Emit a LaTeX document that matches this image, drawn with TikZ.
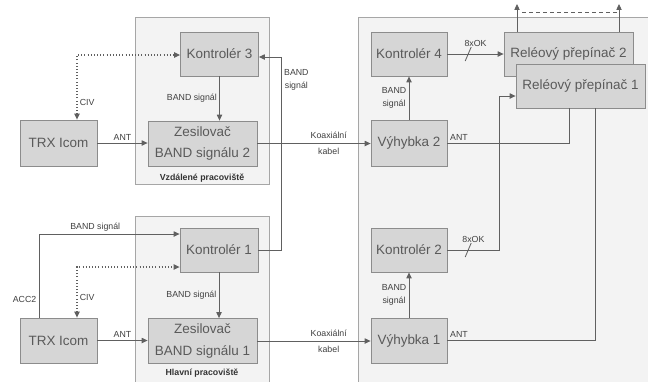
\documentclass[tikz,border=0pt]{standalone}
\usepackage{fontspec}
\setmainfont{Liberation Sans}
\usetikzlibrary{arrows.meta,calc,positioning}
\definecolor{boxfill}{HTML}{D6D6D6}
\definecolor{boxline}{HTML}{8C8C8C}
\definecolor{panelfill}{HTML}{F3F3F3}
\definecolor{panelline}{HTML}{A6A6A6}
\definecolor{txtclr}{HTML}{5A5A5A}
\definecolor{wireclr}{HTML}{606060}

\begin{document}
\begin{tikzpicture}[x=0.03cm, y=-0.03cm,
    box/.style={draw=boxline, fill=boxfill, line width=0.7pt, text=txtclr,
                align=center, inner sep=0pt, font=\fontsize{11.5}{18}\selectfont,
                minimum height=1.32cm},
    ctrl/.style={box, minimum width=2.34cm},
    amp/.style={box, minimum width=3.27cm, minimum height=1.35cm},
    relay/.style={box, minimum width=3.87cm},
    panel/.style={draw=panelline, fill=panelfill, line width=0.7pt},
    plbl/.style={font=\fontsize{7.5}{9}\selectfont\bfseries, text=black!80},
    lbl/.style={font=\fontsize{7.5}{11}\selectfont, text=black!75, inner sep=2pt},
    coax/.style={lbl, align=center, font=\fontsize{7.5}{14}\selectfont},
    wire/.style={draw=wireclr, line width=0.7pt},
    sig/.style={wire, -{Triangle[length=5pt,width=4.5pt]}},
    civ/.style={wire, dotted, line width=0.9pt, {Triangle[length=5pt,width=4.5pt]}-{Triangle[length=5pt,width=4.5pt]}},
  ]
  \clip (0,0) rectangle (648,381);
  \fill[white] (0,0) rectangle (648,381);

  % pracoviste
  \draw[panel] (135,17) rectangle (269,184);
  \draw[panel] (135,216) rectangle (269,395);
  \draw[panel] (358,17) rectangle (660,395);
  \node[plbl] (vzd) at (202,178) {Vzdálené pracoviště};
  \node[plbl] (hl) at (202,373) {Hlavní pracoviště};

  % bloky
  \node[ctrl] (k3) at (219.5,54) {Kontrolér 3};
  \node[amp]  (zes2) at (202.5,143.5) {Zesilovač\\BAND signálu 2};
  \node[ctrl, minimum width=2.31cm, minimum height=1.38cm] (trx2) at (58.5,143) {TRX Icom};
  \node[ctrl] (k1) at (219,250) {Kontrolér 1};
  \node[amp]  (zes1) at (202.5,341) {Zesilovač\\BAND signálu 1};
  \node[ctrl, minimum width=2.31cm, minimum height=1.35cm] (trx1) at (58.5,340.5) {TRX Icom};

  \node[ctrl, minimum width=2.28cm] (k4) at (409,54) {Kontrolér 4};
  \node[ctrl, minimum width=2.28cm, minimum height=1.38cm] (vyh2) at (409,143) {Výhybka 2};
  \node[ctrl, minimum width=2.28cm] (k2) at (409,250) {Kontrolér 2};
  \node[ctrl, minimum width=2.28cm, minimum height=1.35cm] (vyh1) at (409,340.5) {Výhybka 1};
  \node[relay] (rel2) at (568.5,54) {Reléový přepínač 2};
  \node[relay] (rel1) at (580.5,86) {Reléový přepínač 1};

  % antenni vyvody
  \coordinate (ant1) at (517,4);
  \coordinate (ant2) at (619,4);
  \coordinate (dash1) at (522,12);
  \coordinate (dash2) at (617,12);
  \draw[sig] (rel2.north -| ant1) -- (ant1);
  \draw[sig] (rel2.north -| ant2) -- (ant2);
  \draw[wire, dashed] (dash1) -- (dash2);

  % vzdalene pracoviste
  \draw[civ] ($(trx2.north)+(18.5,0)$) |- node[lbl, right, pos=0.13] {CIV} ($(k3.west)+(0,1)$);
  \draw[sig] (trx2.east) -- node[lbl, above] {ANT} (zes2.west |- trx2.east);
  \draw[sig] (k3.south) -- node[lbl, left] {BAND signál} (k3.south |- zes2.north);
  \draw[sig] (zes2.east) -- node[coax, pos=0.63] {Koaxiální\\kabel} (zes2.east -| vyh2.west);

  % hlavni pracoviste
  \draw[sig] ($(trx1.north)+(-19.5,0)$) |- node[lbl, left, pos=0.11] {ACC2}
    node[lbl, above, pos=0.7] {BAND signál} ($(k1.west)+(0,-16)$);
  \draw[civ] ($(trx1.north)+(18.5,0)$) |- node[lbl, right, pos=0.2] {CIV} ($(k1.west)+(0,17)$);
  \draw[sig] (trx1.east) -- node[lbl, above] {ANT} (zes1.west |- trx1.east);
  \draw[sig] (k1.south) -- node[lbl, left] {BAND signál} (k1.south |- zes1.north);
  \draw[sig] (zes1.east) -- node[coax, pos=0.63] {Koaxiální\\kabel} (zes1.east -| vyh1.west);
  \draw[sig] (k1.east) -- ++(23,0) |- node[lbl, right, align=center, pos=0.44] {BAND\\signál} ($(k3.east)+(0,3)$);

  % prava strana
  \draw[sig] (vyh2.north) -- node[lbl, left, align=center] {BAND\\signál} (k4.south);
  \draw[sig] (vyh1.north) -- node[lbl, left, align=center] {BAND\\signál} (k2.south);
  \draw[sig] (k4.east) -- node[lbl, above=4pt] {8xOK} coordinate[pos=0.37] (bus4) (k4.east -| rel2.west);
  \draw[sig] (k2.east) -- node[lbl, above=4pt] {8xOK} coordinate[pos=0.4] (bus2) ++(52,0)
    |- ($(rel1.west)+(0,10)$);
  \draw[wire] ($(bus4)+(-3,7)$) -- ($(bus4)+(3,-7)$);
  \draw[wire] ($(bus2)+(-3,7)$) -- ($(bus2)+(3,-7)$);
  \draw[wire] (vyh2.east) node[lbl, above right] {ANT} -| ($(rel1.south)+(-11.5,0)$);
  \draw[wire] (vyh1.east) node[lbl, above right] {ANT} -| ($(rel1.south)+(14.5,0)$);
\end{tikzpicture}
\end{document}
